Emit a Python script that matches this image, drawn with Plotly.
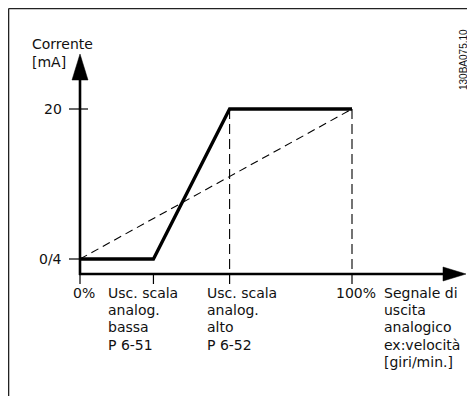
import plotly.graph_objects as go

# ---- data ----
signal_pct = [0, 27, 55, 100]          # analog output signal (% of range)
current_ma = [4, 4, 20, 20]            # output current (mA)
linear_pct = [0, 100]
linear_ma = [4, 20]
dashed_guides_pct = [55, 100]
x_tick_vals = [0, 27, 55, 100]
x_tick_labels = ["0%", "Usc. scala<br>analog.<br>bassa<br>P 6-51",
                 "Usc. scala<br>analog.<br>alto<br>P 6-52", "100%"]
y_tick_vals = [4, 20]
y_tick_labels = ["0/4", "20"]
y_title = "Corrente<br>[mA]"
x_title = "Segnale di<br>uscita<br>analogico<br>ex:velocità<br>[giri/min.]"
code_label = "130BA075.10"

# ---- geometry (pixels of the final page; body has an 8px margin) ----
PAGE_W, PAGE_H = 475, 396
OFF = 8
W, H = PAGE_W - OFF, PAGE_H - OFF
PX_X0, PX_X100 = 80, 352
PX_Y4, PX_Y20 = 259, 109
sx = (PX_X100 - PX_X0) / 100.0
sy = (PX_Y4 - PX_Y20) / 16.0


def dx(px):
    return (px - PX_X0) / sx


def dy(py):
    return 4 + (PX_Y4 - py) / sy


AX_Y = 274      # x-axis pixel row
AX_X = 80       # y-axis pixel column
LINE_H = 17.2
FONT = dict(family="DejaVu Sans, Verdana, sans-serif", size=14, color="#111")

fig = go.Figure()

# dashed linear reference
fig.add_trace(go.Scatter(x=linear_pct, y=linear_ma, mode="lines",
                         line=dict(color="black", width=1.1, dash="8px,5px"),
                         hoverinfo="skip"))
# main characteristic
fig.add_trace(go.Scatter(x=signal_pct, y=current_ma, mode="lines",
                         line=dict(color="black", width=3.3),
                         hoverinfo="skip"))

shapes = []
for g in dashed_guides_pct:
    shapes.append(dict(type="line", xref="x", yref="y", x0=g, x1=g,
                       y0=max(current_ma), y1=dy(AX_Y),
                       line=dict(color="black", width=1.1, dash="10px,5px")))
# axes
shapes.append(dict(type="line", xref="x", yref="y", x0=dx(AX_X), x1=dx(AX_X),
                   y0=dy(AX_Y + 1), y1=dy(70), line=dict(color="black", width=2.6)))
shapes.append(dict(type="line", xref="x", yref="y", x0=dx(AX_X - 1), x1=dx(450),
                   y0=dy(AX_Y), y1=dy(AX_Y), line=dict(color="black", width=2.6)))
# arrow heads
shapes.append(dict(type="path", xref="x", yref="y",
                   path=f"M {dx(72)} {dy(80)} L {dx(80)} {dy(54)} L {dx(88)} {dy(80)} Z",
                   fillcolor="black", line=dict(color="black", width=0.5)))
shapes.append(dict(type="path", xref="x", yref="y",
                   path=f"M {dx(443)} {dy(267)} L {dx(466)} {dy(274)} L {dx(443)} {dy(281)} Z",
                   fillcolor="black", line=dict(color="black", width=0.5)))
# x ticks
for v in x_tick_vals:
    shapes.append(dict(type="line", xref="x", yref="y", x0=v, x1=v,
                       y0=dy(AX_Y), y1=dy(284), line=dict(color="black", width=1.2)))
# y ticks
for v in y_tick_vals:
    right = 88 if v == max(y_tick_vals) else 80
    shapes.append(dict(type="line", xref="x", yref="y", x0=dx(69), x1=dx(right),
                       y0=v, y1=v, line=dict(color="black", width=1.2)))
# frame (left and top)
shapes.append(dict(type="line", xref="x", yref="y", x0=dx(8.6), x1=dx(8.6),
                   y0=dy(PAGE_H), y1=dy(8.6), line=dict(color="#222", width=1.4)))
shapes.append(dict(type="line", xref="x", yref="y", x0=dx(8.6), x1=dx(PAGE_W),
                   y0=dy(8.6), y1=dy(8.6), line=dict(color="#222", width=1.4)))

annotations = []


def add_block(text, left_px, first_center_px, spacing=LINE_H):
    for i, line in enumerate(text.split("<br>")):
        annotations.append(dict(x=dx(left_px), y=dy(first_center_px + i * spacing),
                                xref="x", yref="y", text=line, showarrow=False,
                                xanchor="left", yanchor="middle", align="left",
                                font=FONT, borderpad=0))


label_left_px = [72, 107, 206, 335]
for t, lp in zip(x_tick_labels, label_left_px):
    add_block(t, lp, 293)
add_block(x_title, 383, 293)
add_block(y_title, 31, 44, 18)

for v, t in zip(y_tick_vals, y_tick_labels):
    annotations.append(dict(x=dx(63), y=v, xref="x", yref="y", text=t,
                            showarrow=False, xanchor="right", yanchor="middle",
                            font=FONT, borderpad=0))
annotations.append(dict(x=dx(463), y=dy(60), xref="x", yref="y", text=code_label,
                        showarrow=False, textangle=-90, xanchor="center",
                        yanchor="middle",
                        font=dict(family="Liberation Sans, Arial, sans-serif",
                                  size=10, color="#111"), borderpad=0))

fig.update_layout(
    width=W, height=H, margin=dict(l=0, r=0, t=0, b=0),
    paper_bgcolor="white", plot_bgcolor="white", showlegend=False,
    xaxis=dict(range=[dx(OFF), dx(PAGE_W)], visible=False, fixedrange=True),
    yaxis=dict(range=[dy(PAGE_H), dy(OFF)], visible=False, fixedrange=True),
    shapes=shapes, annotations=annotations,
)

fig.write_html("out.html")
